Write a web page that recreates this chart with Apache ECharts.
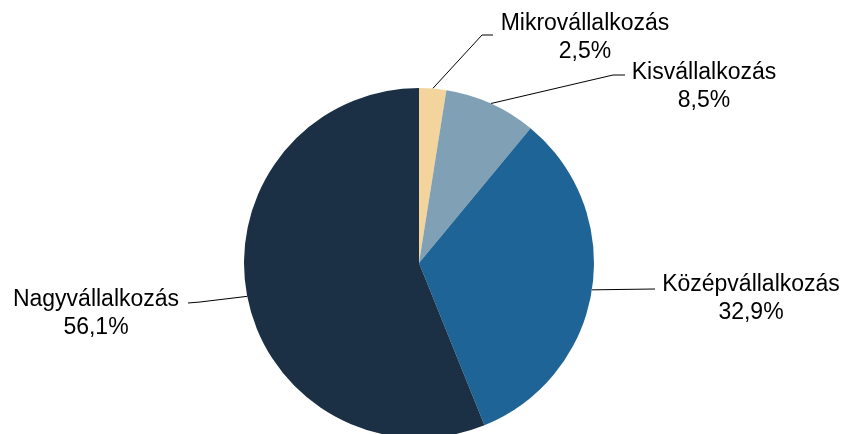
<!DOCTYPE html>
<html>
<head>
<meta charset="utf-8">
<script src="https://cdn.jsdelivr.net/npm/echarts@6/dist/echarts.min.js"></script>
<style>
  html, body { margin: 0; padding: 0; background: #fff; }
  #main { width: 847px; height: 434px; }
</style>
</head>
<body>
<div id="main"></div>
<script>
var categories = ['Mikrovállalkozás', 'Kisvállalkozás', 'Középvállalkozás', 'Nagyvállalkozás'];
var shares = [2.5, 8.5, 32.9, 56.1];
var colors = ['#F2D49C', '#7FA0B5', '#1F6496', '#1B3045'];

// where each label sits and where its leader line bends
var labelSpots = [
    { x: 585, y: 38, bend: [[482, 35], [493, 35]] },
    { x: 704, y: 87, bend: [[613, 75], [625, 75]] },
    { x: 751, y: 299, bend: [[655, 289]] },
    { x: 96, y: 314, bend: [[200, 302], [188, 303]] }
];

window.onload = function() {
    var chart = echarts.init(document.getElementById('main'));

    var data = [];
    for (var i = 0; i < categories.length; i++) {
        data.push({ name: categories[i], value: shares[i], itemStyle: { color: colors[i] } });
    }

    var option = {
        animation: false,
        series: [{
            type: 'pie',
            center: [419, 263],
            radius: 175,
            startAngle: 90,
            clockwise: true,
            data: data,
            itemStyle: { borderWidth: 0 },
            label: {
                show: true,
                color: '#000',
                fontFamily: 'Liberation Sans, Arial, sans-serif',
                fontSize: 23,
                lineHeight: 28,
                align: 'center',
                formatter: function(p) {
                    return p.name + '\n' + p.value.toFixed(1).replace('.', ',') + '%';
                }
            },
            labelLine: {
                show: true,
                lineStyle: { color: '#000', width: 1 }
            },
            labelLayout: function(params) {
                var s = labelSpots[params.dataIndex];
                var pts = [params.labelLinePoints[0]].concat(s.bend);
                return {
                    x: s.x,
                    y: s.y,
                    align: 'center',
                    verticalAlign: 'middle',
                    labelLinePoints: pts
                };
            },
            emphasis: { disabled: true }
        }]
    };
    chart.setOption(option);
};
</script>
</body>
</html>
